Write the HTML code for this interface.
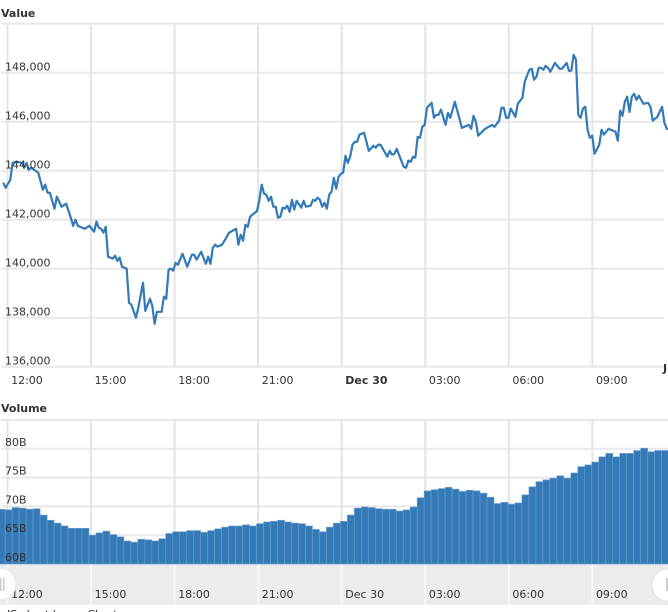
<!DOCTYPE html>
<html lang="en">
<head>
<meta charset="utf-8">
<title>Value and Volume Chart</title>
<style>
html,body{margin:0;padding:0;background:#fff;width:668px;height:612px;overflow:hidden}
svg{display:block;font-family:"DejaVu Sans","Liberation Sans",sans-serif;font-size:11px}
text{fill:#333}
</style>
</head>
<body>
<svg id="chart" width="668" height="612" viewBox="0 0 668 612" xmlns="http://www.w3.org/2000/svg">
  <text x="1" y="17" font-weight="bold">Value</text>
  <text x="1" y="412" font-weight="bold">Volume</text>
  <g id="grid-layer"></g>
  <rect x="0" y="564" width="668" height="41" fill="#ececec"></rect>
  <g id="nav-grid-layer"></g>
  <g id="bar-layer"></g>
  <path id="value-line" fill="none" stroke="#337ab7" stroke-width="2.2" stroke-linejoin="round"></path>
  <g id="label-layer"></g>
  <text x="663" y="372" font-size="11" font-weight="bold">J</text>
  <g>
    <circle cx="0" cy="584" r="16" fill="#fff" stroke="#e2e2e2" stroke-width="1"></circle>
    <rect x="0" y="578" width="1.5" height="13" fill="#ccc"></rect>
    <rect x="3" y="578" width="1.5" height="13" fill="#ccc"></rect>
  </g>
  <g>
    <circle cx="668" cy="585" r="16" fill="#fff" stroke="#e2e2e2" stroke-width="1"></circle>
    <rect x="666" y="578" width="2" height="13" fill="#ccc"></rect>
  </g>
  <text x="7" y="618">JS chart by amCharts</text>
</svg>
<script>
const valueMinutes = [
-10,-5,5,10,20,30,35,40,45,50,65,75,80,85,90,100,105,115,125,135,140,145,150,165,175,185,190,195,200,205,210,
215,225,230,235,240,245,255,260,265,275,280,290,295,305,310,315,320,330,335,340,345,350,355,360,365,375,385,395,400,405,415,425,430,435,440,445,450,460,470,475,
490,495,500,505,510,515,520,535,540,545,550,555,560,565,570,575,580,585,590,595,600,605,610,615,620,630,635,640,650,655,660,665,670,675,680,685,690,695,700,705,710,715,720,
725,730,735,740,745,750,755,765,775,785,790,795,800,815,820,825,830,835,850,855,860,865,870,875,880,885,890,895,900,910,915,920,925,930,940,945,950,960,
975,990,995,1000,1005,1010,1025,1040,1045,1055,1060,1065,1070,1075,1080,1090,1095,1105,1110,1120,1125,1130,1135,1140,1145,1150,1155,1160,1165,1175,1185,1190,1200,1205,1210,1215,1220,
1225,1230,1235,1240,1245,1250,1255,1260,1270,1275,1280,1290,1305,1310,1315,1320,1325,1330,1335,1340,1345,1350,1355,1365,1375,1380,1385,1395,1405,1410,1415,1420
];
const valueSeries = [
143510,143300,143630,144320,144360,144320,144120,144320,144040,144120,143920,143220,143430,143100,143100,142450,142940,142530,142650,142080,141750,142000,141750,141630,141750,141510,141920,141670,141630,141470,141710,
140490,140410,140530,140320,140450,140080,140000,138610,138530,138000,138410,139430,138280,138770,138490,137750,138240,138240,138860,138770,139960,140000,139920,140240,140160,140610,140080,140570,140570,140370,140690,140200,140490,140200,140860,140980,140900,140980,141300,141470,
141630,140980,141390,141140,141790,141710,142120,142360,142810,143430,143060,143020,142770,142940,142530,142530,142080,142120,142490,142450,142570,142320,142810,142410,142770,142490,142770,142530,142570,142810,142770,142900,142810,142530,142690,142450,143020,143140,143710,143260,143750,143870,143920,
144610,144320,144570,145060,145180,145180,145470,145550,144810,145020,144940,145060,145060,144570,144810,144650,144690,144890,144160,144120,144410,144360,144570,144530,145380,145340,145790,145870,146570,146770,146160,146280,146280,146490,145870,146360,146160,146810,
145750,145870,145710,146240,146000,145430,145710,145870,145790,146040,146570,146570,146160,146160,146530,146200,146730,146980,147630,148120,148160,147710,147830,148200,148200,148120,148280,148200,148040,148400,148160,148160,148400,148080,148080,148730,148530,
146280,146160,146530,146610,145670,145340,145430,144690,145060,145670,145470,145710,145590,145220,146450,146240,146810,147020,146400,147020,147140,146890,147060,146730,146770,146610,146040,146200,146610,145960,145710,145710
];
const volumeSeries = [
69.5,69.4,69.8,69.7,69.5,69.6,68.5,67.6,67.1,66.6,66.2,66.2,66.2,65.0,65.4,65.7,65.1,64.7,64.0,63.8,64.3,64.2,64.0,64.4,65.3,65.6,65.6,65.8,65.8,65.5,65.8,66.1,66.4,
66.6,66.6,66.8,66.6,67.0,67.3,67.4,67.6,67.3,67.1,67.0,66.6,66.0,65.6,66.4,67.1,67.4,68.5,69.7,69.9,69.8,69.6,69.5,69.5,69.2,69.4,69.9,71.5,72.7,72.9,73.1,73.3,
73.0,72.6,72.8,72.7,72.3,71.6,70.5,70.7,70.4,70.6,72.0,73.4,74.3,74.6,74.9,75.3,74.9,75.8,76.9,77.2,77.7,78.6,79.2,78.6,79.2,79.2,79.7,80.1,79.5,79.7,79.7
];
const volumeFirstMinute = -21;
const volumeStepMinutes = 15;
const timeLabels = ["12:00","15:00","18:00","21:00","Dec 30","03:00","06:00","09:00"];
const timeLabelMinutes = [0,180,360,540,720,900,1080,1260];
const boldTimeLabels = ["Dec 30"];
const valueGridTicks = [136000,138000,140000,142000,144000,146000,148000,150000];
const valueLabelTicks = [136000,138000,140000,142000,144000,146000,148000];
const volumeGridTicks = [60,65,70,75,80,85];
const volumeLabelTicks = [60,65,70,75,80];

const NS = "http://www.w3.org/2000/svg";
const xScale = m => 7.5 + m * 83.55 / 180;
const seriesX = m => xScale(m * 1.003 + 1);
const yValue = v => 366.7 - (v - 136000) * 0.0245;
const yVolume = v => 564 - (v - 60) * 5.76;

function make(tag, attrs, parent, txt) {
  const el = document.createElementNS(NS, tag);
  for (const k in attrs) el.setAttribute(k, attrs[k]);
  if (txt !== undefined) el.textContent = txt;
  parent.appendChild(el);
  return el;
}
const gridLayer = document.getElementById("grid-layer");
const navGrid = document.getElementById("nav-grid-layer");
const barLayer = document.getElementById("bar-layer");
const labelLayer = document.getElementById("label-layer");
const gridStyle = {stroke:"#e8e8e8","stroke-width":2};

valueGridTicks.forEach(t => {
  const y = yValue(t);
  const el = make("line", Object.assign({x1:1,x2:664,y1:y,y2:y}, gridStyle), gridLayer);
  
  
});
volumeGridTicks.forEach(t => {
  const y = yVolume(t);
  const el = make("line", Object.assign({x1:1,x2:668,y1:y,y2:y}, gridStyle), gridLayer);
  
  
});
timeLabelMinutes.forEach(m => {
  const x = xScale(m);
  const a = make("line", {x1:x,x2:x,y1:25,y2:367,stroke:"#e4e4e4","stroke-width":2}, gridLayer);
  
  
  const b = make("line", {x1:x,x2:x,y1:420,y2:564,stroke:"#e4e4e4","stroke-width":2}, gridLayer);
  
  
  const c = make("line", {x1:x,x2:x,y1:564,y2:605,stroke:"#f8f8f8","stroke-width":2}, navGrid);
  
  
});

volumeSeries.forEach((v, i) => {
  const m = volumeFirstMinute + i * volumeStepMinutes;
  const x0 = seriesX(m), x1 = seriesX(m + volumeStepMinutes), y = yVolume(v);
  const r = make("rect", {x:x0,y:y,width:x1-x0,height:564-y,fill:"#337ab7",stroke:"#6b9fce","stroke-width":0.6}, barLayer);
  
  
});

document.getElementById("value-line").setAttribute("d",
  valueSeries.map((v, i) => (i ? "L" : "M") + seriesX(valueMinutes[i]).toFixed(2) + " " + yValue(v).toFixed(2)).join(""));

valueLabelTicks.forEach(t => {
  const el = make("text", {x:5,y:yValue(t)-2.4}, labelLayer, t.toLocaleString("en-US"));
  
  
});
volumeLabelTicks.forEach(t => {
  const el = make("text", {x:5,y:yVolume(t)-3}, labelLayer, t + "B");
  
  
});
timeLabels.forEach((s, i) => {
  const x = xScale(timeLabelMinutes[i]) + 3.6;
  const a = make("text", {x:x,y:384}, labelLayer, s);
  if (boldTimeLabels.includes(s)) a.setAttribute("font-weight", "bold");
  
  
  const b = make("text", {x:x,y:598}, labelLayer, s);
  
  
});
</script>
</body>
</html>
